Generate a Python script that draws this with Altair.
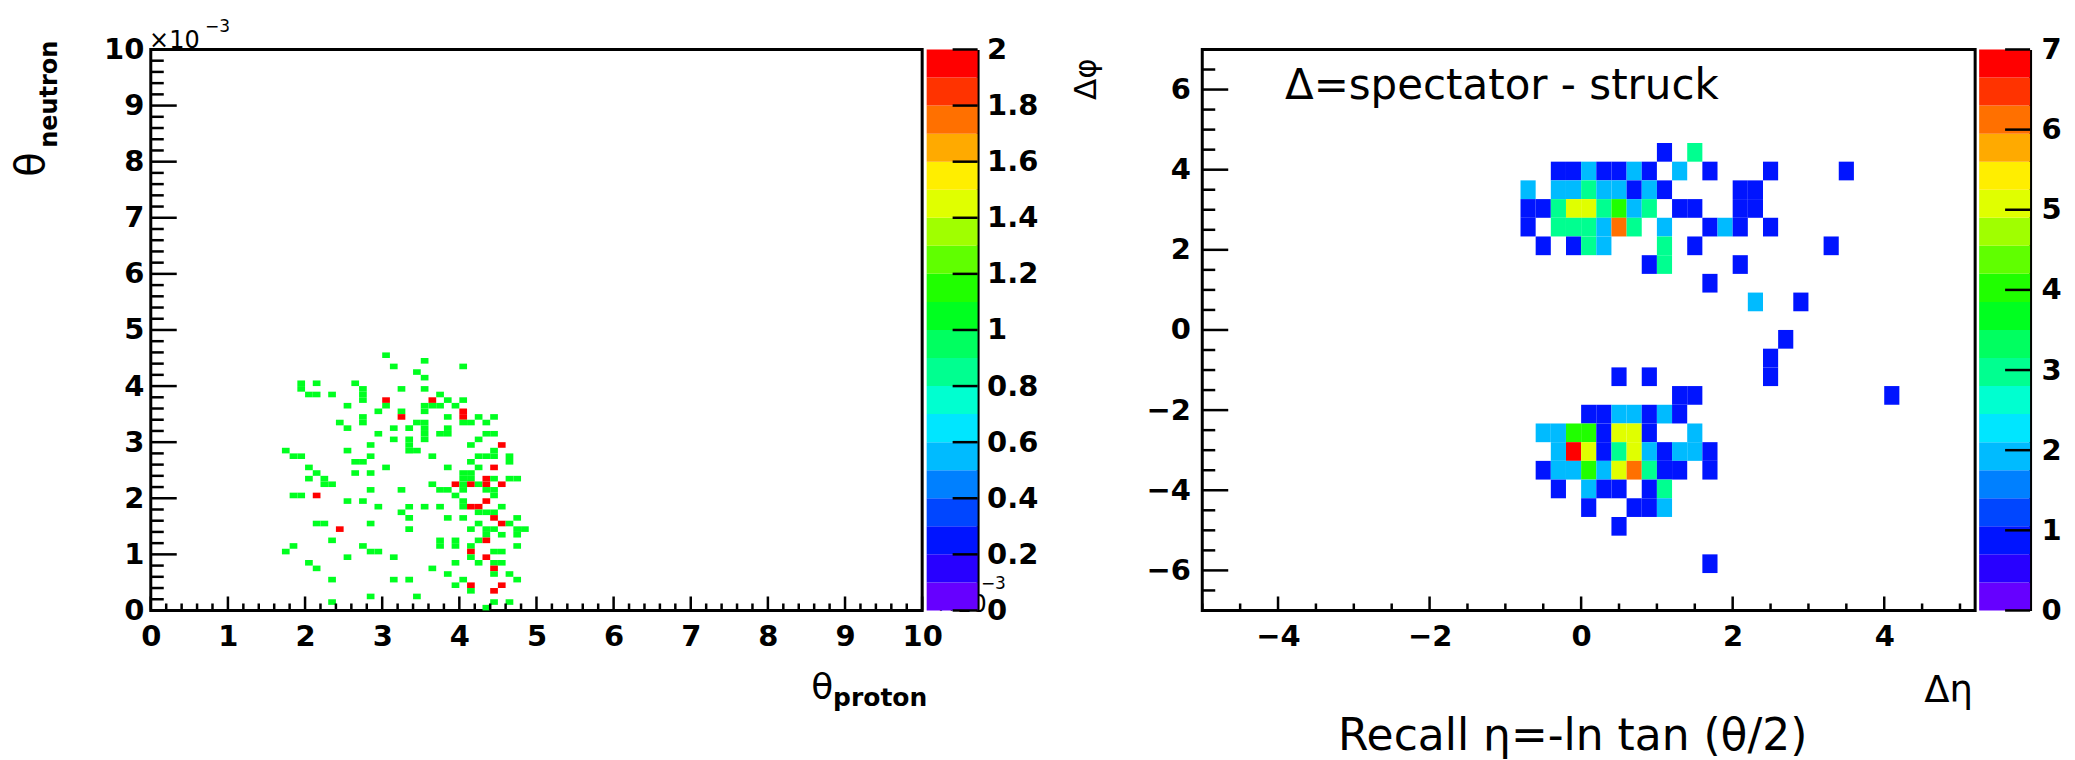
import altair as alt
import pandas as pd

FONT = "DejaVu Sans"

# ROOT-like rainbow palette, 20 contour levels
PALETTE = ["#6600ff", "#2800ff", "#0014ff", "#0046ff", "#0080ff", "#00bbff", "#00e6ff",
           "#00ffd0", "#00ff90", "#00ff60", "#00ff20", "#20ff00", "#60ff00", "#a0ff00",
           "#e0ff00", "#ffee00", "#ffaa00", "#ff7000", "#ff3300", "#ff0000"]

LEFT_LEVELS = [0.0, 0.1, 0.2, 0.3, 0.4, 0.5, 0.6, 0.7, 0.8, 0.9, 1.0,
               1.1, 1.2, 1.3, 1.4, 1.5, 1.6, 1.7, 1.8, 1.9, 2.0]
RIGHT_LEVELS = [0.0, 0.35, 0.7, 1.05, 1.4, 1.75, 2.1, 2.45, 2.8, 3.15, 3.5,
                3.85, 4.2, 4.55, 4.9, 5.25, 5.6, 5.95, 6.3, 6.65, 7.0]

LEFT_X_LABELS = [0, 1, 2, 3, 4, 5, 6, 7, 8, 9, 10]
LEFT_Y_LABELS = [0, 1, 2, 3, 4, 5, 6, 7, 8, 9, 10]
LEFT_CB_LABELS = [0, 0.2, 0.4, 0.6, 0.8, 1, 1.2, 1.4, 1.6, 1.8, 2]
RIGHT_X_LABELS = [-4, -2, 0, 2, 4]
RIGHT_Y_LABELS = [-6, -4, -2, 0, 2, 4, 6]
RIGHT_CB_LABELS = [0, 1, 2, 3, 4, 5, 6, 7]

# ---------------- left histogram: bin centres (x10^-3) and contents ----------------
left_theta_n = (
    [4.55] + [4.45] + [4.35] * 2 + [4.25] + [4.15] + [4.05] * 3 + [3.95] * 4 + [3.85] * 5 +
    [3.75] * 5 + [3.65] * 6 + [3.55] * 4 + [3.45] * 6 + [3.35] * 7 + [3.25] * 5 + [3.15] * 6 +
    [3.05] * 4 + [2.95] * 4 + [2.85] * 5 + [2.75] * 8 + [2.65] * 4 + [2.55] * 5 + [2.45] * 5 +
    [2.35] * 8 + [2.25] * 9 + [2.15] * 7 + [2.05] * 5 + [1.95] * 4 + [1.85] * 8 + [1.75] * 4 +
    [1.65] * 5 + [1.55] * 6 + [1.45] * 7 + [1.35] * 3 + [1.25] * 5 + [1.15] * 6 + [1.05] * 6 +
    [0.95] * 4 + [0.85] * 5 + [0.75] * 3 + [0.65] * 3 + [0.55] * 5 + [0.45] * 3 + [0.35] * 2 +
    [0.25] * 2 + [0.15] * 3 + [0.05]
)
left_theta_p = [
    3.05,
    3.55,
    3.15, 4.05,
    3.45,
    3.55,
    1.95, 2.15, 2.65,
    1.95, 2.75, 3.25, 3.55,
    2.05, 2.15, 2.35, 2.75, 3.75,
    2.75, 3.05, 3.65, 3.85, 4.05,
    2.55, 3.05, 3.55, 3.65, 3.75, 3.95,
    2.95, 3.25, 3.55, 4.05,
    2.75, 3.25, 3.85, 4.05, 4.25, 4.45,
    2.45, 2.75, 3.45, 3.55, 4.05, 4.15, 4.35,
    2.55, 3.15, 3.35, 3.55, 3.85,
    2.95, 3.55, 3.75, 3.85, 4.35, 4.45,
    3.15, 3.35, 3.55, 4.25,
    2.85, 3.35, 4.15, 4.55,
    1.75, 2.55, 3.35, 3.45, 4.45,
    1.85, 1.95, 2.85, 3.65, 4.25, 4.35, 4.45, 4.65,
    2.65, 2.75, 4.15, 4.65,
    2.05, 3.05, 3.85, 4.25, 4.45,
    2.15, 2.65, 2.85, 4.05, 4.15,
    2.05, 2.25, 4.05, 4.15, 4.35, 4.45, 4.65, 4.75,
    2.25, 2.35, 3.65, 3.95, 4.05, 4.15, 4.25, 4.35, 4.55,
    2.85, 3.25, 3.75, 3.85, 4.05, 4.35, 4.45,
    1.85, 1.95, 2.15, 3.95, 4.45,
    2.55, 2.75, 4.05, 4.35,
    2.95, 3.35, 3.55, 3.75, 4.05, 4.15, 4.25, 4.55,
    3.25, 4.25, 4.35, 4.45,
    3.35, 3.85, 4.05, 4.45, 4.75,
    2.15, 2.25, 2.85, 4.25, 4.55, 4.65,
    2.45, 3.35, 4.15, 4.35, 4.45, 4.75, 4.85,
    4.35, 4.55, 4.75,
    2.35, 3.75, 3.95, 4.25, 4.35,
    1.85, 2.75, 3.75, 3.95, 4.15, 4.75,
    1.75, 2.85, 2.95, 4.15, 4.45, 4.55,
    2.55, 3.15, 4.15, 4.35,
    2.05, 3.95, 4.25, 4.45, 4.55,
    2.15, 3.65, 4.45,
    3.85, 4.45, 4.65,
    2.35, 3.15, 3.35, 4.05, 4.75,
    3.95, 4.15, 4.55,
    4.15, 4.45,
    2.85, 3.45,
    2.35, 4.45, 4.65,
    4.35,
]
left_counts = [
    1,
    1,
    1, 1,
    1,
    1,
    1, 1, 1,
    1, 1, 1, 1,
    1, 1, 1, 1, 1,
    1, 2, 2, 1, 1,
    1, 1, 1, 1, 1, 1,
    1, 1, 1, 2,
    1, 2, 1, 2, 1, 1,
    1, 1, 1, 1, 1, 1, 1,
    1, 1, 1, 1, 1,
    1, 1, 1, 1, 1, 1,
    1, 1, 1, 1,
    1, 1, 1, 2,
    1, 1, 1, 1, 1,
    1, 1, 1, 1, 1, 1, 1, 1,
    1, 1, 1, 1,
    1, 1, 1, 1, 2,
    1, 1, 1, 1, 1,
    1, 1, 1, 1, 2, 1, 1, 1,
    1, 1, 1, 2, 1, 2, 1, 2, 2,
    1, 1, 1, 1, 1, 1, 1,
    1, 1, 2, 1, 1,
    1, 1, 1, 2,
    1, 1, 1, 1, 1, 2, 2, 1,
    1, 1, 1, 1,
    1, 1, 1, 2, 1,
    1, 1, 1, 1, 2, 1,
    2, 1, 1, 1, 1, 1, 1,
    1, 1, 1,
    1, 1, 1, 1, 2,
    1, 1, 1, 1, 1, 1,
    1, 1, 1, 2, 1, 1,
    1, 1, 1, 2,
    1, 1, 1, 1, 1,
    1, 1, 2,
    1, 1, 1,
    1, 1, 1, 1, 1,
    1, 2, 2,
    1, 2,
    1, 1,
    1, 1, 1,
    1,
]

# ---------------- right histogram: bin centres and contents ----------------
right_dphi = (
    [4.433] * 2 + [3.967] * 11 + [3.5] * 11 + [3.033] * 13 + [2.567] * 12 + [2.1] * 7 +
    [1.633] * 3 + [1.167] + [0.7] * 2 + [-0.233] + [-0.7] + [-1.167] * 3 + [-1.633] * 3 +
    [-2.1] * 7 + [-2.567] * 9 + [-3.033] * 11 + [-3.5] * 11 + [-3.967] * 6 + [-4.433] * 4 +
    [-4.9] + [-5.833]
)
right_deta = [
    1.1, 1.5,
    -0.3, -0.1, 0.1, 0.3, 0.5, 0.7, 0.9, 1.3, 1.7, 2.5, 3.5,
    -0.7, -0.3, -0.1, 0.1, 0.3, 0.5, 0.7, 0.9, 1.1, 2.1, 2.3,
    -0.7, -0.5, -0.3, -0.1, 0.1, 0.3, 0.5, 0.7, 0.9, 1.3, 1.5, 2.1, 2.3,
    -0.7, -0.3, -0.1, 0.1, 0.3, 0.5, 0.7, 1.1, 1.7, 1.9, 2.1, 2.5,
    -0.5, -0.1, 0.1, 0.3, 1.1, 1.5, 3.3,
    0.9, 1.1, 2.1,
    1.7,
    2.3, 2.9,
    2.7,
    2.5,
    0.5, 0.9, 2.5,
    1.3, 1.5, 4.1,
    0.1, 0.3, 0.5, 0.7, 0.9, 1.1, 1.3,
    -0.5, -0.3, -0.1, 0.1, 0.3, 0.5, 0.7, 0.9, 1.5,
    -0.3, -0.1, 0.1, 0.3, 0.5, 0.7, 0.9, 1.1, 1.3, 1.5, 1.7,
    -0.5, -0.3, -0.1, 0.1, 0.3, 0.5, 0.7, 0.9, 1.1, 1.3, 1.7,
    -0.3, 0.1, 0.3, 0.5, 0.9, 1.1,
    0.1, 0.7, 0.9, 1.1,
    0.5,
    1.7,
]
right_counts = [
    1, 3,
    1, 1, 2, 1, 1, 2, 1, 2, 1, 1, 1,
    2, 2, 2, 3, 2, 2, 1, 2, 1, 1, 1,
    1, 1, 3, 5, 5, 3, 4, 2, 3, 1, 1, 1, 1,
    1, 3, 3, 3, 2, 6, 3, 2, 1, 2, 1, 1,
    1, 1, 3, 2, 3, 1, 1,
    1, 3, 1,
    1,
    2, 1,
    1,
    1,
    1, 1, 1,
    1, 1, 1,
    1, 1, 2, 2, 1, 2, 1,
    2, 2, 4, 4, 1, 5, 5, 1, 2,
    2, 7, 5, 1, 3, 5, 2, 1, 2, 2, 1,
    1, 2, 2, 4, 2, 5, 6, 3, 1, 1, 1,
    1, 2, 1, 1, 1, 3,
    1, 1, 1, 2,
    1,
    1,
]

# ---------------- layout constants (pixels) ----------------
X0, Y0 = 148.7, 47.5
H = 561.8
WL, WR, WCB = 772.5, 774.0, 51.0
GAP = 4.0
RIGHT_X0 = 1201.0
SPACER_W = RIGHT_X0 - (X0 + WL + GAP + WCB) - 2 * GAP
RIGHT_CB_X0 = RIGHT_X0 + WR + GAP
TOTAL_W, TOTAL_H = 2075, 760
TICK_W = 2.5
LABEL_SIZE = 29

LH = 0.05        # half bin width, left (x10^-3)
RHX = 0.1        # half bin width, right, delta eta
RHY = 7.0 / 30   # half bin height, right, delta phi

LEFT_MINOR = [round(0.2 * k, 1) for k in range(1, 50) if k % 5]
RIGHT_X_MINOR = [v for v in [round(-5 + 0.5 * k, 1) for k in range(0, 21)] if v % 2 != 0]
RIGHT_Y_MINOR = [v for v in [round(-7 + 0.5 * k, 1) for k in range(1, 28)] if v % 2 != 0]


def label_axis(values, padding, orient, domain=False):
    kw = dict(values=values, title=None, ticks=False, tickSize=0, domain=domain, grid=False,
              labelFont=FONT, labelFontSize=LABEL_SIZE, labelFontWeight="bold", labelColor="black",
              labelPadding=padding, labelFlush=False, labelOverlap=False, format="~f",
              orient=orient)
    if domain:
        kw["domainColor"] = "black"
        kw["domainWidth"] = 3
    return alt.Axis(**kw)


def xticks(values, scale, axis, length):
    return alt.Chart(pd.DataFrame({"v": values})).mark_rule(
        color="black", strokeWidth=TICK_W).encode(
        x=alt.X("v:Q", scale=scale, axis=axis), y=alt.value(H), y2=alt.value(H - length))


def yticks(values, scale, axis, length, x_from=0.0, direction=1):
    return alt.Chart(pd.DataFrame({"v": values})).mark_rule(
        color="black", strokeWidth=TICK_W).encode(
        y=alt.Y("v:Q", scale=scale, axis=axis), x=alt.value(x_from),
        x2=alt.value(x_from + direction * length))


def text(t, x, y, size, weight="normal", angle=0, align="left"):
    return alt.Chart(pd.DataFrame({"t": [t]})).mark_text(
        font=FONT, fontSize=size, fontWeight=weight, angle=angle, align=align,
        baseline="alphabetic", color="black").encode(
        text="t:N", x=alt.value(x), y=alt.value(y))


def bound(x):
    return alt.Chart(pd.DataFrame({"b": [0]})).mark_rule(opacity=0, strokeWidth=1).encode(
        x=alt.value(x), y=alt.value(-Y0), y2=alt.value(TOTAL_H - Y0))


# ---------------- left panel ----------------
left_df = pd.DataFrame({"tp": left_theta_p, "tn": left_theta_n, "n": left_counts})
sx_l = alt.Scale(domain=[0, 10], nice=False, zero=False)
sy_l = alt.Scale(domain=[0, 10], nice=False, zero=False)
ax_lx = label_axis(LEFT_X_LABELS, 12, "bottom")
ax_ly = label_axis(LEFT_Y_LABELS, 7, "left")
col_l = alt.Scale(type="threshold", domain=LEFT_LEVELS[1:-1], range=PALETTE)

cells_l = alt.Chart(left_df).transform_calculate(
    x0=f"datum.tp - {LH}", x1=f"datum.tp + {LH}",
    y0=f"datum.tn - {LH}", y1=f"datum.tn + {LH}",
).mark_rect().encode(
    x=alt.X("x0:Q", scale=sx_l, axis=ax_lx),
    x2="x1:Q",
    y=alt.Y("y0:Q", scale=sy_l, axis=ax_ly),
    y2="y1:Q",
    color=alt.Color("n:Q", scale=col_l, legend=None),
)

left_panel = alt.layer(
    cells_l,
    xticks(LEFT_X_LABELS, sx_l, ax_lx, 14), xticks(LEFT_MINOR, sx_l, ax_lx, 7),
    yticks(LEFT_Y_LABELS, sy_l, ax_ly, 26), yticks(LEFT_MINOR, sy_l, ax_ly, 13),
    text("θ", 42 - X0, 175 - Y0, 40, angle=270),
    text("neutron", 55 - X0, 146 - Y0, 24, weight="bold", angle=270),
    text("×10", 147 - X0, 46 - Y0, 24),
    text("−3", 203 - X0, 30 - Y0, 17),
    text("×10", 986 - X0, 611 - Y0, 24, align="right"),
    text("−3", 980 - X0, 588 - Y0, 17),
    text("θ", 810 - X0, 698 - Y0, 36),
    text("proton", 832 - X0, 705 - Y0, 25, weight="bold"),
    bound(-X0),
).properties(width=WL, height=H)

bands_l = pd.DataFrame({"lo": LEFT_LEVELS[:-1], "hi": LEFT_LEVELS[1:]})
scb_l = alt.Scale(domain=[0, 2], nice=False, zero=False)
ax_cbl = label_axis(LEFT_CB_LABELS, 9, "right", domain=True)
cb_l = alt.layer(
    alt.Chart(bands_l).transform_calculate(mid="(datum.lo + datum.hi) / 2").mark_rect().encode(
        y=alt.Y("lo:Q", scale=scb_l, axis=ax_cbl),
        y2="hi:Q", x=alt.value(0), x2=alt.value(WCB),
        color=alt.Color("mid:Q", scale=col_l, legend=None)),
    yticks(LEFT_CB_LABELS, scb_l, ax_cbl, 25, x_from=WCB, direction=-1),
).properties(width=WCB, height=H, view=alt.ViewBackground(strokeOpacity=0))

# ---------------- right panel ----------------
right_df = pd.DataFrame({"deta": right_deta, "dphi": right_dphi, "n": right_counts})
sx_r = alt.Scale(domain=[-5, 5.2], nice=False, zero=False)
sy_r = alt.Scale(domain=[-7, 7], nice=False, zero=False)
ax_rx = label_axis(RIGHT_X_LABELS, 12, "bottom")
ax_ry = label_axis(RIGHT_Y_LABELS, 12, "left")
col_r = alt.Scale(type="threshold", domain=RIGHT_LEVELS[1:-1], range=PALETTE)

cells_r = alt.Chart(right_df).transform_calculate(
    x0=f"datum.deta - {RHX}", x1=f"datum.deta + {RHX}",
    y0=f"datum.dphi - {RHY}", y1=f"datum.dphi + {RHY}",
).mark_rect().encode(
    x=alt.X("x0:Q", scale=sx_r, axis=ax_rx),
    x2="x1:Q",
    y=alt.Y("y0:Q", scale=sy_r, axis=ax_ry),
    y2="y1:Q",
    color=alt.Color("n:Q", scale=col_r, legend=None),
)

RX = RIGHT_X0
right_panel = alt.layer(
    cells_r,
    xticks(RIGHT_X_LABELS, sx_r, ax_rx, 14), xticks(RIGHT_X_MINOR, sx_r, ax_rx, 7),
    yticks(RIGHT_Y_LABELS, sy_r, ax_ry, 26), yticks(RIGHT_Y_MINOR, sy_r, ax_ry, 13),
    text("Δφ", 1095 - RX, 98 - Y0, 31, angle=270),
    text("Δ=spectator - struck", 1501 - RX, 97 - Y0, 42, align="center"),
    text("Δη", 1924 - RX, 701 - Y0, 37),
    text("Recall η=-ln tan (θ/2)", 1337 - RX, 749 - Y0, 44),
).properties(width=WR, height=H)

bands_r = pd.DataFrame({"lo": RIGHT_LEVELS[:-1], "hi": RIGHT_LEVELS[1:]})
scb_r = alt.Scale(domain=[0, 7], nice=False, zero=False)
ax_cbr = label_axis(RIGHT_CB_LABELS, 11, "right", domain=True)
cb_r = alt.layer(
    alt.Chart(bands_r).transform_calculate(mid="(datum.lo + datum.hi) / 2").mark_rect().encode(
        y=alt.Y("lo:Q", scale=scb_r, axis=ax_cbr),
        y2="hi:Q", x=alt.value(0), x2=alt.value(WCB),
        color=alt.Color("mid:Q", scale=col_r, legend=None)),
    yticks(RIGHT_CB_LABELS, scb_r, ax_cbr, 25, x_from=WCB, direction=-1),
    bound(TOTAL_W - RIGHT_CB_X0),
).properties(width=WCB, height=H, view=alt.ViewBackground(strokeOpacity=0))

spacer = alt.Chart(pd.DataFrame({"s": [0]})).mark_point(opacity=0).properties(
    width=SPACER_W, height=H, view=alt.ViewBackground(strokeOpacity=0))

chart = alt.hconcat(left_panel, cb_l, spacer, right_panel, cb_r, spacing=GAP, bounds="flush").resolve_scale(
    color="independent"
).properties(padding=0, background="white").configure_view(
    stroke="black", strokeWidth=3
)

chart.save("out.html", embed_options={"renderer": "svg", "actions": False})
